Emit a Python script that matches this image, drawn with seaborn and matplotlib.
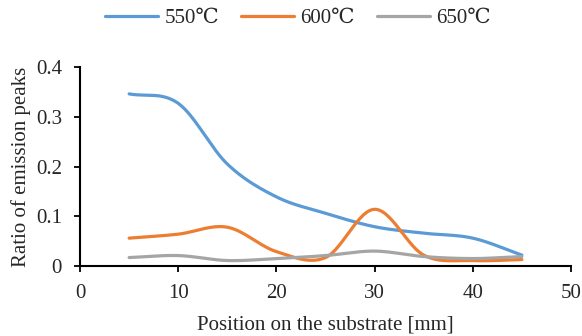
import numpy as np
import pandas as pd
import matplotlib
matplotlib.use("Agg")
import matplotlib.pyplot as plt
import seaborn as sns

positions = [5, 10, 15, 20, 25, 30, 35, 40, 45]
ratio_550 = [0.346, 0.327, 0.205, 0.139, 0.106, 0.079, 0.066, 0.056, 0.022]
ratio_600 = [0.056, 0.064, 0.078, 0.029, 0.017, 0.114, 0.022, 0.011, 0.013]
ratio_650 = [0.017, 0.021, 0.011, 0.015, 0.021, 0.030, 0.019, 0.015, 0.019]
series_names = ["550℃", "600℃", "650℃"]
colors = ["#5B9BD5", "#ED7D31", "#A5A5A5"]
x_ticks = [0, 10, 20, 30, 40, 50]
y_ticks = [0, 0.1, 0.2, 0.3, 0.4]
y_tick_labels = ["0", "0.1", "0.2", "0.3", "0.4"]


def smooth(x, y, n=30):
    # Catmull-Rom spline (similar to Excel's smoothed line)
    x = np.asarray(x, float)
    y = np.asarray(y, float)
    px = np.concatenate([[2 * x[0] - x[1]], x, [2 * x[-1] - x[-2]]])
    py = np.concatenate([[2 * y[0] - y[1]], y, [2 * y[-1] - y[-2]]])
    xs, ys = [], []
    for i in range(1, len(px) - 2):
        t = np.linspace(0, 1, n, endpoint=False)
        for arr, out in ((px, xs), (py, ys)):
            p0, p1, p2, p3 = arr[i - 1], arr[i], arr[i + 1], arr[i + 2]
            out.extend(0.5 * ((2 * p1) + (-p0 + p2) * t
                              + (2 * p0 - 5 * p1 + 4 * p2 - p3) * t ** 2
                              + (-p0 + 3 * p1 - 3 * p2 + p3) * t ** 3))
    xs.append(x[-1])
    ys.append(y[-1])
    return np.array(xs), np.array(ys)


frames = []
for name, vals in zip(series_names, [ratio_550, ratio_600, ratio_650]):
    sx, sy = smooth(positions, vals)
    frames.append(pd.DataFrame({"x": sx, "y": sy, "series": name}))
df = pd.concat(frames, ignore_index=True)

sns.set_style("white")
plt.rcParams["font.family"] = ["Liberation Serif", "DejaVu Serif"]

FS = 15
fig = plt.figure(figsize=(5.82, 3.36), dpi=100)
ax = fig.add_axes([0.1375, 0.2083, 0.8435, 0.5923])
sns.lineplot(data=df, x="x", y="y", hue="series", palette=colors,
             linewidth=2.3, sort=False, estimator=None, ax=ax, legend=True)

ax.set_xlim(0, 50)
ax.set_ylim(0, 0.4)
ax.set_xticks(x_ticks)
ax.set_yticks(y_ticks)
ax.set_yticklabels(y_tick_labels)
ax.set_xlabel("Position on the substrate [mm]", fontsize=FS, labelpad=9)
ax.set_ylabel("Ratio of emission peaks", fontsize=FS, labelpad=3.5)
ax.tick_params(axis="both", labelsize=FS, direction="out", length=4,
               width=1.3, color="black", bottom=True, left=True)
ax.tick_params(axis="x", pad=9)
ax.tick_params(axis="y", pad=9)
for s in ["top", "right"]:
    ax.spines[s].set_visible(False)
for s in ["left", "bottom"]:
    ax.spines[s].set_color("black")
    ax.spines[s].set_linewidth(1.5)

handles, labels = ax.get_legend_handles_labels()
ax.legend(handles, labels, loc="center", bbox_to_anchor=(0.512, 0.946),
          bbox_transform=fig.transFigure, ncol=3, frameon=False, fontsize=FS,
          handlelength=2.55, columnspacing=1.05, handletextpad=0.3,
          borderpad=0.0, borderaxespad=0.0)

fig.savefig("out.png", dpi=100)
